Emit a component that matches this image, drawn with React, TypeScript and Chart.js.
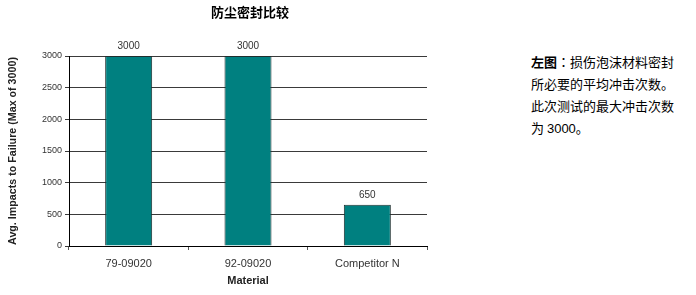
import React, { useEffect, useRef } from "react";
import { Chart, registerables } from "chart.js";

Chart.register(...registerables);

const materials = ["79-09020", "92-09020", "Competitor N"];
const avgImpacts = [3000, 3000, 650];
const yTicks = [0, 500, 1000, 1500, 2000, 2500, 3000];

const latin = '"Liberation Sans", Arial, sans-serif';
const cjk = '"Noto Sans CJK SC", "Liberation Sans", sans-serif';

// Writes each bar's value just above its top.
const valueLabels = {
  id: "valueLabels",
  afterDatasetsDraw(chart: any) {
    const ctx = chart.ctx;
    const meta = chart.getDatasetMeta(0);
    const values = chart.data.datasets[0].data as number[];
    ctx.save();
    ctx.font = `10px ${latin}`;
    ctx.fillStyle = "#333";
    ctx.textAlign = "center";
    ctx.textBaseline = "middle";
    meta.data.forEach((bar: any, i: number) => {
      ctx.fillText(String(values[i]), bar.x, bar.y - 10);
    });
    ctx.restore();
  },
};

export default function App() {
  const canvasRef = useRef<HTMLCanvasElement | null>(null);

  useEffect(() => {
    if (!canvasRef.current) return;
    const chart = new Chart(canvasRef.current, {
      type: "bar",
      data: {
        labels: materials,
        datasets: [
          {
            data: avgImpacts,
            backgroundColor: "#008080",
            borderColor: "#1f2f2f",
            borderWidth: 1,
            barPercentage: 0.394,
            categoryPercentage: 1,
          },
        ],
      },
      options: {
        animation: false,
        responsive: false,
        layout: { padding: 0 },
        plugins: {
          legend: { display: false },
          tooltip: { enabled: false },
          title: {
            display: true,
            text: "防尘密封比较",
            color: "#000",
            font: { family: cjk, size: 13, weight: "bold" },
            padding: { top: 4, bottom: 36.4 },
          },
        },
        scales: {
          x: {
            offset: true,
            grid: {
              offset: true,
              drawOnChartArea: false,
              drawTicks: true,
              tickLength: 4,
              color: "#555",
            },
            border: { display: true, color: "#000" },
            ticks: {
              color: "#333",
              font: { family: latin, size: 11 },
              padding: 7,
              maxRotation: 0,
            },
            title: {
              display: true,
              text: "Material",
              color: "#222",
              font: { family: latin, size: 11, weight: "bold" },
              padding: { top: 0, bottom: 7.4 },
            },
            afterFit(scale: any) {
              scale.height = 49;
            },
          },
          y: {
            min: 0,
            max: 3000,
            afterBuildTicks(scale: any) {
              scale.ticks = yTicks.map((v) => ({ value: v }));
            },
            grid: {
              color: "#3a3a3a",
              lineWidth: 1,
              tickLength: 4,
            },
            border: { display: true, color: "#000" },
            ticks: {
              color: "#333",
              font: { family: latin, size: 9 },
              padding: 3,
              callback: (v: any) => String(v),
            },
            title: {
              display: true,
              text: "Avg. Impacts to Failure (Max of 3000)",
              color: "#222",
              font: { family: latin, size: 10.7, weight: "bold" },
              padding: { top: 6.6, bottom: 0 },
            },
            afterFit(scale: any) {
              scale.width = 69;
            },
          },
          // empty spacer on the right so the plot ends at x = 427
          spacer: {
            type: "linear",
            position: "right",
            display: true,
            grid: { display: false },
            border: { display: false },
            ticks: { display: false },
            afterFit(scale: any) {
              scale.width = 73;
            },
          },
        },
      },
      plugins: [valueLabels],
    });
    return () => chart.destroy();
  }, []);

  return (
    <div
      style={{
        position: "absolute",
        left: 0,
        top: 0,
        width: 696,
        height: 295,
        background: "#fff",
        overflow: "hidden",
      }}
    >
      <canvas
        ref={canvasRef}
        width={500}
        height={295}
        style={{ position: "absolute", left: 0, top: 0, width: 500, height: 295 }}
      />
      <div
        style={{
          position: "absolute",
          left: 531,
          top: 51,
          width: 165,
          fontFamily: cjk,
          fontSize: 13,
          lineHeight: "22px",
          color: "#000",
        }}
      >
        <div style={{ whiteSpace: "nowrap" }}>
          <b>左图</b>
          <span style={{ fontFamily: '"Noto Sans CJK TC", sans-serif' }}>：</span>
          损伤泡沫材料密封
        </div>
        <div style={{ whiteSpace: "nowrap" }}>所必要的平均冲击次数。</div>
        <div style={{ whiteSpace: "nowrap" }}>此次测试的最大冲击次数</div>
        <div style={{ whiteSpace: "nowrap" }}>
          为 <span style={{ fontFamily: latin }}>3000</span>。
        </div>
      </div>
    </div>
  );
}
